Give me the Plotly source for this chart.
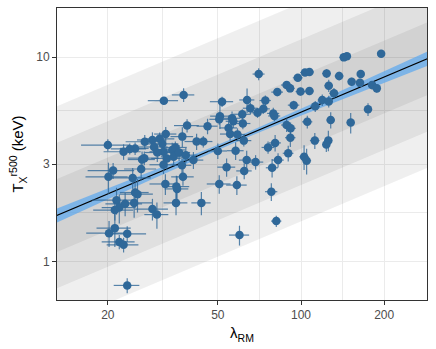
import plotly.graph_objects as go

# cluster richness and temperature
lam = [20.0, 22.8, 25.1, 24.0, 27.2, 29.0, 30.8, 32.4, 31.5, 29.4,
       31.8, 30.2, 34.2, 35.1, 37.2, 38.7, 26.6, 27.1, 32.7, 34.6,
       31.8, 26.4, 20.9, 20.1, 24.6, 32.3, 35.4, 37.4, 37.1, 41.9,
       44.3, 45.9, 36.2, 38.3, 40.8, 35.6, 25.1, 25.6, 21.5, 23.1,
       24.9, 29.0, 35.3, 43.6, 22.0, 21.2, 30.1, 21.2, 20.2, 23.5,
       22.0, 22.8, 23.5, 31.9, 37.6, 51.8, 63.8, 70.3, 74.3, 82.1,
       88.7, 91.3, 97.4, 103.4, 107.3, 99.6, 107.3, 94.1, 65.6, 73.1,
       69.6, 79.4, 61.3, 50.9, 56.3, 50.6, 56.9, 61.6, 80.1, 88.7,
       91.7, 54.7, 55.4, 58.9, 58.0, 63.6, 68.5, 53.8, 62.3, 80.6,
       76.0, 82.6, 78.6, 91.5, 89.9, 102.6, 104.8, 50.0, 62.1, 50.6,
       58.6, 78.1, 81.4, 59.9, 112.2, 125.6, 123.5, 105.4, 128.1, 151.3,
       112.6, 119.4, 126.0, 142.8, 146.6, 195.0, 123.8, 137.4, 164.5, 126.0,
       152.5, 163.5, 180.8, 188.1, 131.6, 174.8]
temp = [3.72, 3.45, 3.58, 3.56, 3.86, 3.94, 3.99, 4.21, 3.77, 3.64,
        3.45, 3.42, 3.52, 3.62, 4.09, 4.63, 3.16, 3.21, 3.20, 3.26,
        2.98, 2.84, 2.79, 2.60, 2.57, 2.40, 2.33, 2.60, 2.96, 3.87,
        3.87, 4.60, 3.42, 3.32, 3.14, 2.27, 2.18, 2.14, 2.00, 1.92,
        1.94, 1.81, 1.94, 1.94, 1.84, 1.79, 1.70, 1.46, 1.38, 1.37,
        1.25, 1.21, 0.766, 6.13, 6.54, 6.06, 6.18, 8.27, 6.14, 6.75,
        7.31, 7.04, 7.93, 8.42, 8.47, 6.79, 6.83, 5.83, 5.63, 5.59,
        5.35, 5.31, 5.26, 5.15, 5.03, 4.97, 4.86, 4.74, 5.16, 4.66,
        4.49, 4.51, 4.21, 4.19, 3.49, 3.14, 3.07, 2.90, 2.78, 3.81,
        3.62, 3.14, 2.88, 4.04, 3.39, 3.26, 3.12, 3.48, 3.91, 2.40,
        2.37, 2.20, 1.58, 1.35, 3.91, 3.92, 3.74, 4.83, 4.93, 4.79,
        5.75, 6.18, 6.08, 9.98, 10.1, 10.4, 8.32, 8.09, 8.27, 7.26,
        7.58, 7.49, 7.31, 7.04, 6.66, 5.56]
lam_err = [4.0, 3.5, 3.0, 3.5, 4.0, 3.5, 4.0, 3.0, 4.5, 3.5,
           3.5, 3.0, 4.0, 3.5, 3.5, 4.0, 3.0, 3.5, 4.0, 3.5,
           3.5, 3.5, 4.0, 3.5, 4.0, 4.0, 4.0, 3.5, 3.0, 4.0,
           3.5, 4.0, 3.5, 4.0, 3.5, 3.5, 3.0, 3.5, 4.0, 3.5,
           4.0, 4.0, 3.5, 3.5, 3.0, 3.5, 3.0, 3.0, 3.5, 4.0,
           3.0, 3.0, 2.5, 4.0, 3.5, 5.0, 4.0, 3.5, 3.5, 4.0,
           4.0, 3.5, 4.0, 4.0, 4.0, 4.0, 4.0, 4.5, 4.0, 4.0,
           3.5, 4.0, 4.5, 4.0, 4.0, 4.0, 3.5, 4.0, 4.0, 4.0,
           4.0, 4.0, 4.5, 4.0, 4.0, 4.0, 4.5, 4.0, 4.0, 4.0,
           4.0, 4.0, 4.0, 4.0, 4.0, 4.0, 4.0, 4.0, 4.0, 5.0,
           5.0, 4.0, 3.5, 5.0, 4.5, 4.0, 4.0, 4.5, 4.5, 5.0,
           4.5, 4.5, 4.5, 5.0, 5.0, 5.5, 4.5, 5.0, 5.0, 4.5,
           5.0, 5.0, 5.5, 5.5, 5.0, 5.5]
temp_err = [0.25, 0.30, 0.25, 0.22, 0.30, 0.35, 0.30, 0.35, 0.25, 0.30,
            0.28, 0.35, 0.30, 0.25, 0.45, 0.35, 0.30, 0.25, 0.40, 0.30,
            0.30, 0.35, 0.25, 0.45, 0.30, 0.28, 0.30, 0.25, 0.30, 0.35,
            0.25, 0.40, 0.30, 0.28, 0.30, 0.35, 0.35, 0.40, 0.30, 0.25,
            0.30, 0.22, 0.25, 0.25, 0.30, 0.20, 0.25, 0.28, 0.20, 0.12,
            0.10, 0.10, 0.065, 0.25, 0.50, 0.35, 0.85, 0.55, 0.35, 0.30,
            0.30, 0.30, 0.30, 0.30, 0.30, 0.30, 0.30, 0.30, 0.35, 0.30,
            0.30, 0.35, 0.30, 0.70, 0.40, 0.30, 0.35, 0.30, 0.30, 0.35,
            0.30, 0.40, 0.30, 0.30, 0.35, 0.35, 0.25, 0.30, 0.25, 0.35,
            0.25, 0.25, 0.30, 0.40, 0.30, 0.45, 0.45, 0.30, 0.25, 0.25,
            0.25, 0.22, 0.10, 0.15, 0.35, 0.45, 0.30, 0.35, 0.45, 0.55,
            0.35, 0.40, 0.40, 0.35, 0.30, 0.35, 0.40, 0.40, 0.35, 0.50,
            0.35, 0.35, 0.35, 0.35, 0.40, 0.40]

# best-fit relation and its confidence band
fit_lam = [13, 20, 30, 45, 60, 80, 120, 180, 290]
fit_T = [1.677, 2.145, 2.704, 3.410, 4.02, 4.738, 5.976, 7.538, 9.899]
fit_lo = [1.550, 2.021, 2.590, 3.307, 3.910, 4.594, 5.723, 7.102, 9.135]
fit_hi = [1.813, 2.276, 2.823, 3.517, 4.133, 4.887, 6.240, 7.997, 10.73]

# intrinsic scatter bands (1, 2, 3 sigma) at the two ends
band_lam = [13, 290]
band1_lo, band1_hi = [1.113, 6.569], [2.527, 14.92]
band2_lo, band2_hi = [0.739, 4.361], [3.807, 22.47]
band3_lo, band3_hi = [0.490, 2.894], [5.735, 33.85]

point_col = "#2f6899"

fig = go.Figure()

for lo, hi in [(band3_lo, band3_hi), (band2_lo, band2_hi), (band1_lo, band1_hi)]:
    fig.add_trace(go.Scatter(x=band_lam + band_lam[::-1], y=hi + lo[::-1],
                             fill="toself", fillcolor="rgba(0,0,0,0.062)",
                             line=dict(width=0), mode="lines", hoverinfo="skip"))

fig.add_trace(go.Scatter(x=fit_lam + fit_lam[::-1], y=fit_hi + fit_lo[::-1],
                         fill="toself", fillcolor="rgba(96,170,238,0.75)",
                         line=dict(width=0), mode="lines", hoverinfo="skip"))
fig.add_trace(go.Scatter(x=fit_lam, y=fit_T, mode="lines",
                         line=dict(color="black", width=1.1)))

fig.add_trace(go.Scatter(
    x=lam, y=temp, mode="markers",
    marker=dict(color=point_col, size=8.5),
    error_x=dict(type="data", array=lam_err, width=0, thickness=1.2, color="rgba(47,104,153,0.8)"),
    error_y=dict(type="data", array=temp_err, width=0, thickness=1.2, color="rgba(47,104,153,0.8)"),
))

axis_common = dict(
    type="log", showline=True, linecolor="#333333", linewidth=1, mirror=True,
    ticks="outside", ticklen=4, tickcolor="#333333", tickwidth=1,
    gridcolor="#ebebeb", gridwidth=1, zeroline=False,
    tickfont=dict(size=12, color="#4d4d4d"),
)

fig.update_layout(
    width=436, height=349,
    margin=dict(l=57, r=9, t=8, b=49),
    plot_bgcolor="white", paper_bgcolor="white",
    showlegend=False,
    font=dict(family="Liberation Sans, Arial, sans-serif"),
    xaxis=dict(axis_common, range=[1.117, 2.456],
               tickmode="array", tickvals=[20, 50, 100, 200], ticktext=["20", "50", "100", "200"],
               minor=dict(tickmode="array", tickvals=[31.62, 70.71, 141.4], showgrid=True,
                          gridcolor="#ebebeb", gridwidth=0.6, ticks=""),
               title=dict(text="λ<sub>RM</sub>", font=dict(size=15, color="black"), standoff=6)),
    yaxis=dict(axis_common, range=[-0.187, 1.2405],
               tickmode="array", tickvals=[1, 3, 10], ticktext=["1", "3", "10"],
               minor=dict(tickmode="array", tickvals=[1.732, 5.477], showgrid=True,
                          gridcolor="#ebebeb", gridwidth=0.6, ticks=""),
               title=dict(text="T<sub>X</sub><sup>r500</sup> (keV)", font=dict(size=15, color="black"), standoff=8)),
)

# the page's default body margin would push the figure 8px off the window
fig.write_html("out.html", config={"displayModeBar": False},
               post_script="document.body.style.margin='0';")
